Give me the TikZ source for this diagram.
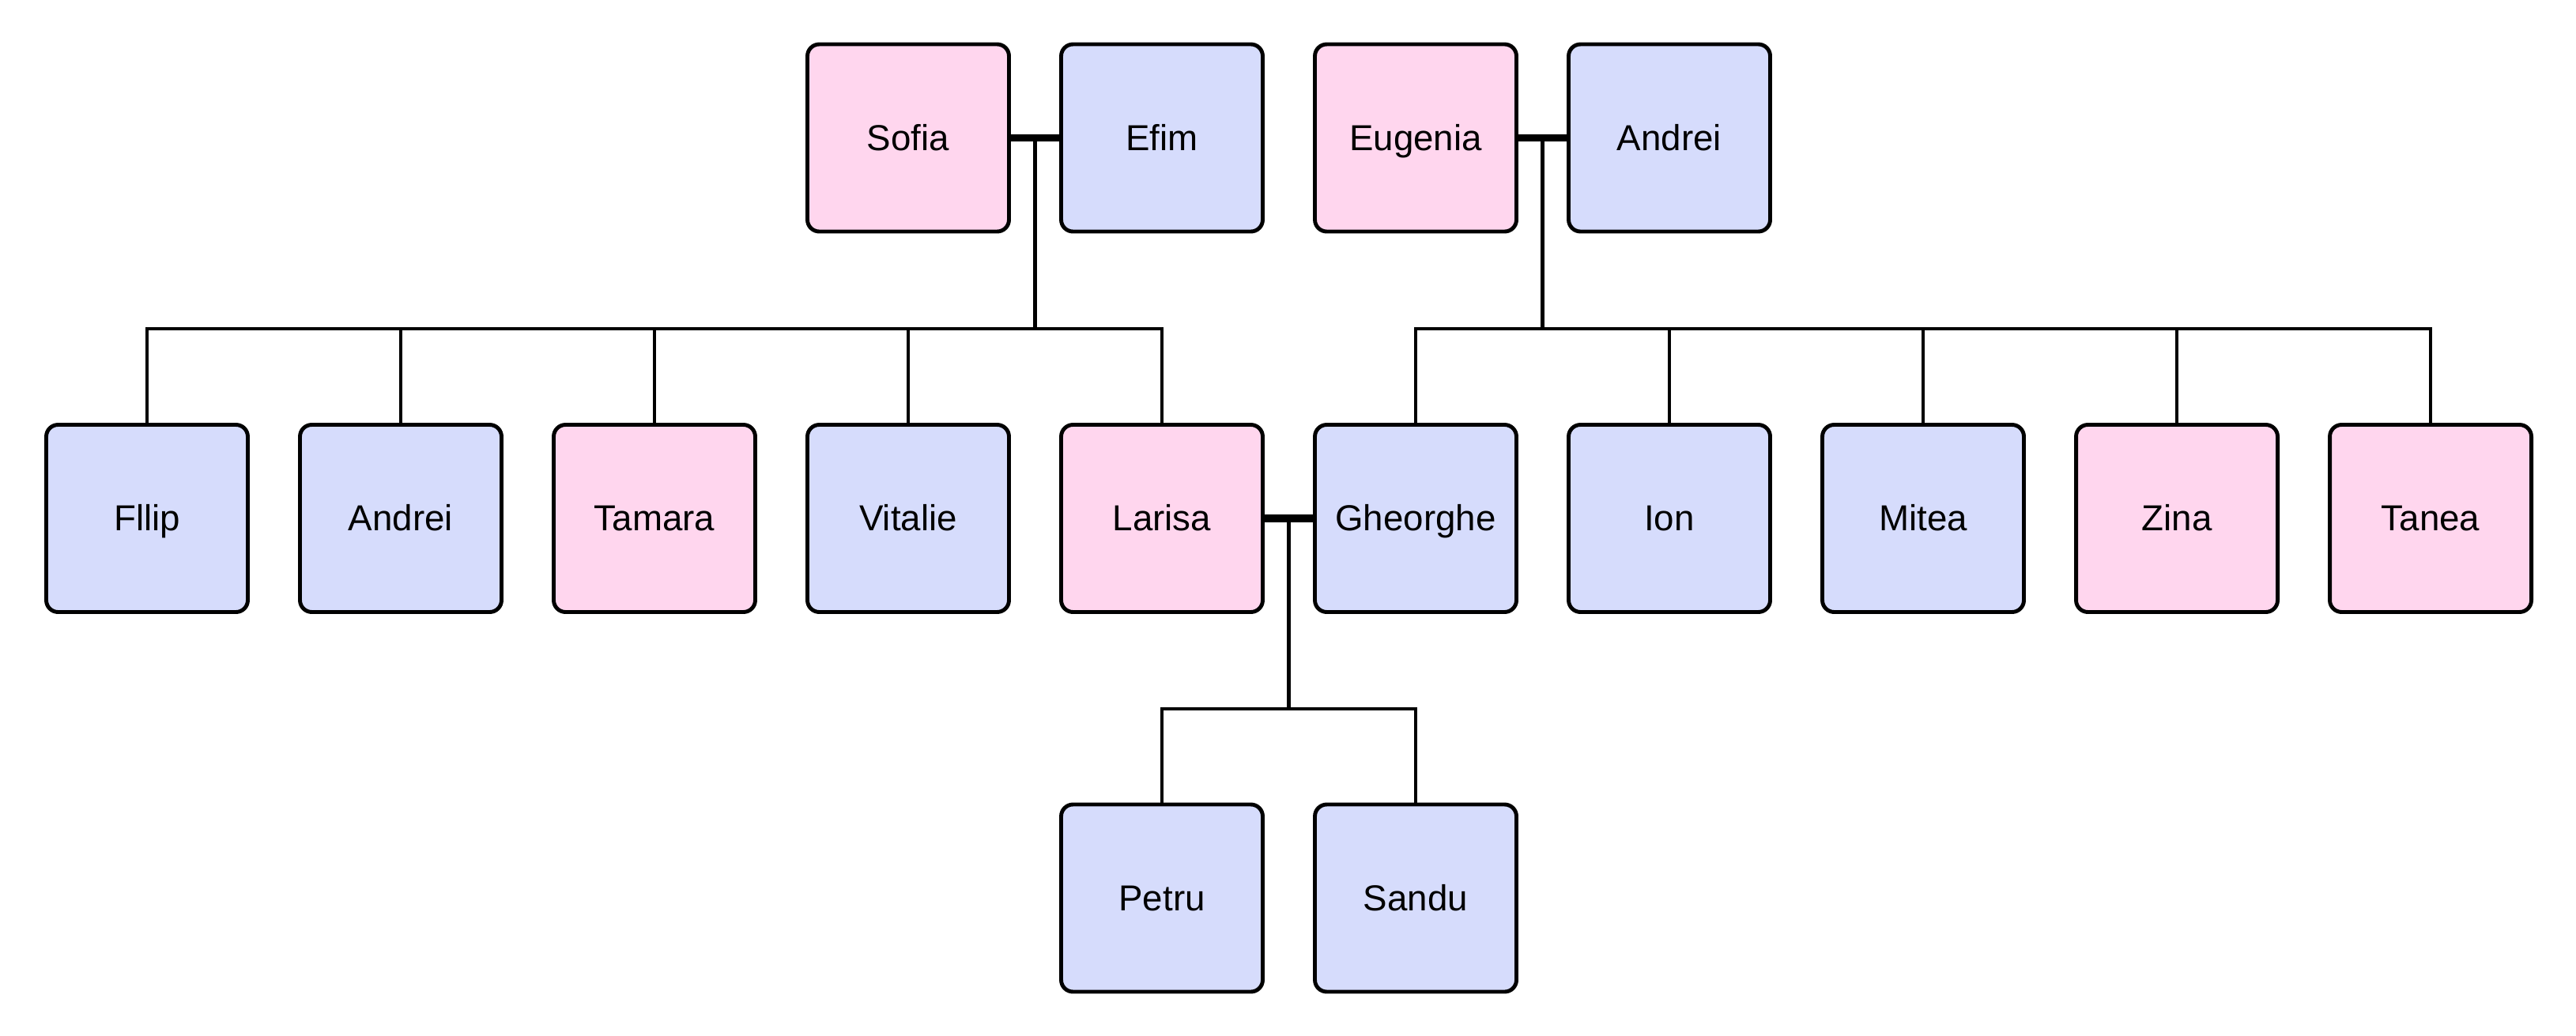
\documentclass[tikz,border=0pt]{standalone}
\usepackage{fontspec}
\setmainfont{Liberation Sans}
\definecolor{femalePink}{RGB}{255,214,238}
\definecolor{maleBlue}{RGB}{214,220,252}

\begin{document}
\begin{tikzpicture}[%%
  personStyle/.style={draw,line width=1.4pt,rounded corners=0.15cm,%%
    minimum width=2.55cm,minimum height=2.37cm,inner sep=0pt,%%
    text height=1.7ex,text depth=0ex,%%
    font=\fontsize{13}{15}\selectfont},%%
  femaleStyle/.style={personStyle,fill=femalePink},%%
  maleStyle/.style={personStyle,fill=maleBlue},%%
  lineStyle/.style={-,line width=1.3pt},%%
  marriageStyle/.style={-,line width=2.6pt}%%
]
%%
%%
\pgfmathsetmacro{\xzero}{1.86}
\pgfmathsetmacro{\colstep}{3.21}
\pgfmathsetmacro{\ytop}{-1.745}
\pgfmathsetmacro{\ymid}{-6.56}
\pgfmathsetmacro{\ylow}{-11.365}
\pgfmathsetmacro{\ybarone}{-4.16}
\pgfmathsetmacro{\ybartwo}{-8.97}
%%
\useasboundingbox (0,0) rectangle (32.59,-13.10);
%%
%% The grandparents.
\node[femaleStyle] (sofia) at ({\xzero+3*\colstep},\ytop) {Sofia};
\node[maleStyle] (efim) at ({\xzero+4*\colstep},\ytop) {Efim};
\node[femaleStyle] (eugenia) at ({\xzero+5*\colstep},\ytop) {Eugenia};
\node[maleStyle] (andreiSr) at ({\xzero+6*\colstep},\ytop) {Andrei};
%%
%% The children.
\node[maleStyle] (filip) at ({\xzero+0*\colstep},\ymid) {Fllip};
\node[maleStyle] (andrei) at ({\xzero+1*\colstep},\ymid) {Andrei};
\node[femaleStyle] (tamara) at ({\xzero+2*\colstep},\ymid) {Tamara};
\node[maleStyle] (vitalie) at ({\xzero+3*\colstep},\ymid) {Vitalie};
\node[femaleStyle] (larisa) at ({\xzero+4*\colstep},\ymid) {Larisa};
\node[maleStyle] (gheorghe) at ({\xzero+5*\colstep},\ymid) {Gheorghe};
\node[maleStyle] (ion) at ({\xzero+6*\colstep},\ymid) {Ion};
\node[maleStyle] (mitea) at ({\xzero+7*\colstep},\ymid) {Mitea};
\node[femaleStyle] (zina) at ({\xzero+8*\colstep},\ymid) {Zina};
\node[femaleStyle] (tanea) at ({\xzero+9*\colstep},\ymid) {Tanea};
%%
%% The grandchildren.
\node[maleStyle] (petru) at ({\xzero+4*\colstep},\ylow) {Petru};
\node[maleStyle] (sandu) at ({\xzero+5*\colstep},\ylow) {Sandu};
%%
%% Sofia and Efim.
\draw[marriageStyle] (sofia.east) -- (efim.west) coordinate[midway] (marriageOne);
\coordinate (barOne) at (marriageOne |- {(0,\ybarone)});
\draw[lineStyle] (marriageOne) -- (barOne);
\foreach \child in {filip,andrei,tamara,vitalie,larisa}
  \draw[lineStyle] (barOne) -| (\child.north);
%%
%% Eugenia and Andrei.
\draw[marriageStyle] (eugenia.east) -- (andreiSr.west) coordinate[midway] (marriageTwo);
\coordinate (barTwo) at (marriageTwo |- {(0,\ybarone)});
\draw[lineStyle] (marriageTwo) -- (barTwo);
\foreach \child in {gheorghe,ion,mitea,zina,tanea}
  \draw[lineStyle] (barTwo) -| (\child.north);
%%
%% Larisa and Gheorghe.
\draw[marriageStyle] (larisa.east) -- (gheorghe.west) coordinate[midway] (marriageThree);
\coordinate (barThree) at (marriageThree |- {(0,\ybartwo)});
\draw[lineStyle] (marriageThree) -- (barThree);
\foreach \child in {petru,sandu}
  \draw[lineStyle] (barThree) -| (\child.north);
\end{tikzpicture}
\end{document}
